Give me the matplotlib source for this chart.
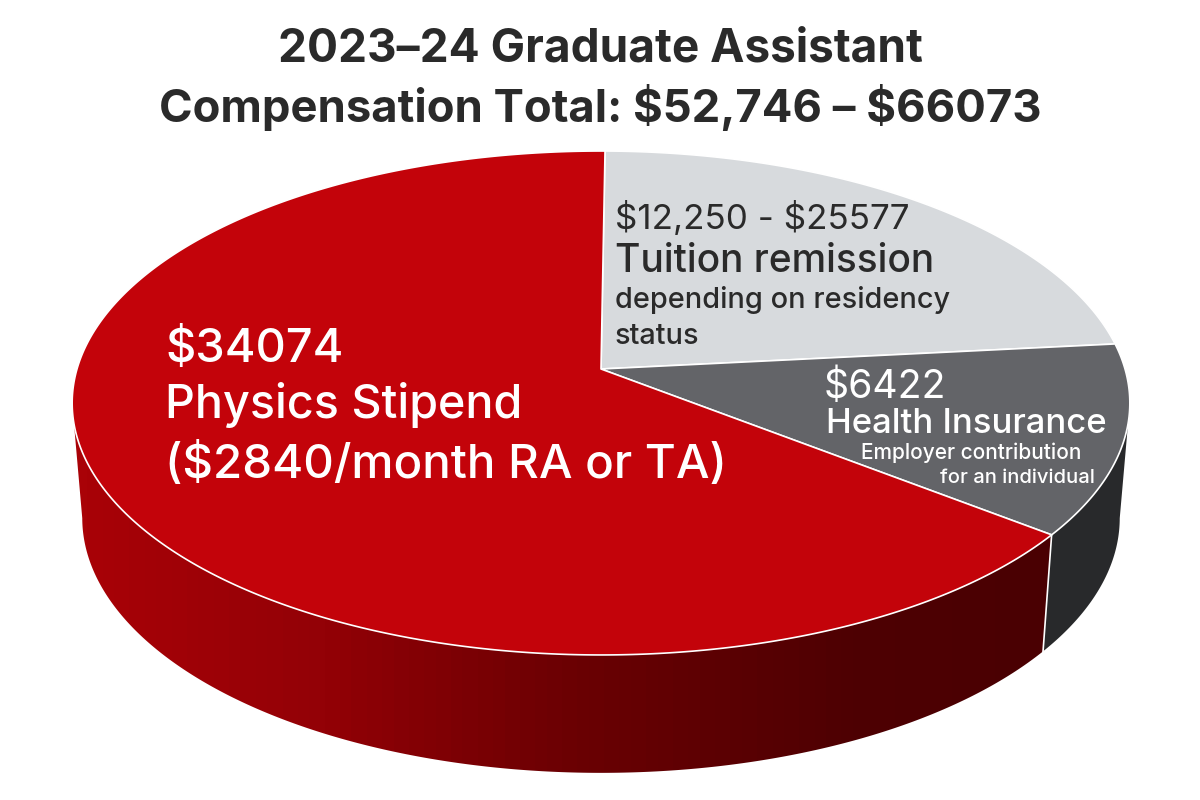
import numpy as np
import matplotlib
matplotlib.use("Agg")
import matplotlib.pyplot as plt
from matplotlib.colors import LinearSegmentedColormap
from matplotlib.patches import Polygon

# slices clockwise from 12 o'clock, sized on the low total of 52,746
categories = ["Tuition remission", "Health Insurance", "Physics Stipend"]
amounts = [12250, 6422, 34074]
top_colors = ["#d7dadd", "#636468", "#c3030a"]

title_lines = ["2023\u201324 Graduate Assistant",
               "Compensation Total: $52,746 \u2013 $66073"]

FONT = "Inter"
WHITE = "#ffffff"
DARK = "#2a2a2a"

# perspective of the disc, in pixels of the 1200x800 picture
CX = 601
K = 0.1349
TOP_RIM = (369, -197.6, 524)
LOW_RIM = (483.6, -185.0, 514)
START = 0.5


def rim(theta_deg, plane):
    # theta is clockwise from the top of the disc
    y0, a, b = plane
    t = np.radians(theta_deg)
    u, v = np.sin(t), np.cos(t)
    w = 1 + K * v
    return np.column_stack([CX + b * u / w, (y0 + a * v) / w])


def arc(t1, t2, plane):
    n = max(int(abs(t2 - t1) * 2), 2)
    return rim(np.linspace(t1, t2, n), plane)


def side(t1, t2):
    return np.vstack([arc(t1, t2, TOP_RIM), arc(t2, t1, LOW_RIM)])


edges = START + np.concatenate([[0], np.cumsum(amounts)]) / np.sum(amounts) * 360

fig = plt.figure(figsize=(12, 8), dpi=100)
ax = fig.add_axes([0, 0, 1, 1])
ax.set_xlim(0, 1200)
ax.set_ylim(800, 0)
ax.axis("off")

# ── Side wall ────────────────────────────────────────────────────────────────
LEFT_TANGENT = 262.2
RIGHT_TANGENT = 97.8

ax.add_patch(Polygon(side(RIGHT_TANGENT, edges[2]), closed=True,
                     facecolor="#28292b", edgecolor="none", zorder=1))

shade = LinearSegmentedColormap.from_list(
    "wall", [(0.0, "#a90207"), (0.25, "#930106"), (0.5, "#6c0003"),
             (0.8, "#4e0002"), (1.0, "#4a0002")], N=70)
wall = ax.imshow(np.linspace(0, 1, 256).reshape(1, -1), cmap=shade, aspect="auto",
                 extent=(72, 1052, 800, 300), zorder=1)
clip = Polygon(side(edges[2], LEFT_TANGENT), closed=True, transform=ax.transData)
wall.set_clip_path(clip)
ax.set_xlim(0, 1200)
ax.set_ylim(800, 0)

corner_top = rim(edges[2], TOP_RIM)[0]
corner_low = rim(edges[2], LOW_RIM)[0]
ax.plot([corner_top[0], corner_low[0]], [corner_top[1], corner_low[1]],
        color=WHITE, lw=1.2, zorder=2)

# ── Top face ─────────────────────────────────────────────────────────────────
apex = rim(np.array([90.0]), (TOP_RIM[0], 0, 0))
for t1, t2, color in zip(edges[:-1], edges[1:], top_colors):
    pts = np.vstack([apex, arc(t1, t2, TOP_RIM)])
    ax.add_patch(Polygon(pts, closed=True, facecolor=color, edgecolor=WHITE,
                         lw=1.2, joinstyle="round", zorder=3))

# ── Text ─────────────────────────────────────────────────────────────────────
ax.text(600, 62, title_lines[0], ha="center", fontsize=33.1, fontweight="bold",
        color=DARK, family=FONT, parse_math=False, zorder=5)
ax.text(600, 122, title_lines[1], ha="center", fontsize=32.7, fontweight="bold",
        color=DARK, family=FONT, parse_math=False, zorder=5)


def label(x, y, s, size, color, weight="normal", ha="left"):
    ax.text(x, y, s, ha=ha, va="baseline", fontsize=size, color=color,
            fontweight=weight, family=FONT, parse_math=False, zorder=5)


label(165, 362, "$34074", 33.8, WHITE, "medium")
label(165, 418, categories[2], 33.6, WHITE, "medium")
label(165, 478, "($2840/month RA or TA)", 34.2, WHITE, "medium")

label(615, 229, "$12,250 - $25577", 25.2, DARK)
label(615, 272, categories[0], 28, DARK, "medium")
label(615, 308, "depending on residency", 20.8, DARK, "medium")
label(615, 344, "status", 20.8, DARK, "medium")

label(824, 398, "$6422", 28.2, WHITE)
label(826, 433, categories[1], 25, WHITE, "medium")
label(1081, 459, "Employer contribution", 15, WHITE, "medium", ha="right")
label(1095, 483, "for an individual", 14.5, WHITE, "medium", ha="right")

fig.savefig("out.png", dpi=100)
